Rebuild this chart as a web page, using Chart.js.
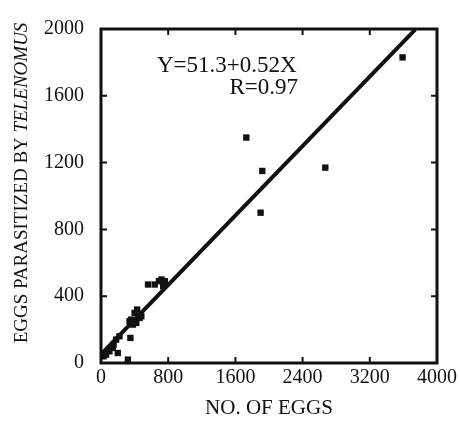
<!DOCTYPE html>
<html>
<head>
<meta charset="utf-8">
<script src="https://cdn.jsdelivr.net/npm/chart.js@4.4.1/dist/chart.umd.min.js"></script>
<style>
  body { margin: 0; background: #fff; }
</style>
</head>
<body>
<canvas id="chart" width="460" height="425"></canvas>
<script>
// number of eggs per mass vs eggs parasitized
const eggs =        [3590, 1730, 1920, 1900, 2670, 560, 640, 690, 720, 760, 740, 360, 400, 430, 380, 340, 460, 420, 480, 350, 180, 220, 150, 100, 60, 140, 200, 320, 30];
const parasitized = [1830, 1350, 1150, 900, 1170, 470, 470, 490, 500, 490, 460, 260, 300, 320, 230, 250, 270, 240, 280, 150, 140, 160, 110, 70, 50, 90, 60, 20, 40];

// regression line end points
const fitX = [0, 3740];
const fitY = [51, 1996];

const xTicks = [0, 800, 1600, 2400, 3200, 4000];
const yTicks = [0, 400, 800, 1200, 1600, 2000];

const serif = "'Liberation Serif', 'DejaVu Serif', serif";

// frame, inward ticks, y title and the equation
const decorations = {
  id: 'decorations',
  afterDraw(chart) {
    const ctx = chart.ctx;
    const area = chart.chartArea;
    const xs = chart.scales.x;
    const ys = chart.scales.y;
    ctx.save();
    ctx.strokeStyle = '#111';
    ctx.lineWidth = 3;
    ctx.strokeRect(area.left, area.top, area.right - area.left, area.bottom - area.top);

    ctx.lineWidth = 2;
    ctx.beginPath();
    xTicks.slice(1, -1).forEach(v => {
      const px = xs.getPixelForValue(v);
      ctx.moveTo(px, area.bottom); ctx.lineTo(px, area.bottom - 6);
      ctx.moveTo(px, area.top); ctx.lineTo(px, area.top + 6);
    });
    yTicks.slice(1, -1).forEach(v => {
      const py = ys.getPixelForValue(v);
      ctx.moveTo(area.left, py); ctx.lineTo(area.left + 6, py);
      ctx.moveTo(area.right, py); ctx.lineTo(area.right - 6, py);
    });
    ctx.stroke();

    // y axis title, part of it in italics
    const partA = 'EGGS PARASITIZED BY ';
    const partB = 'TELENOMUS';
    ctx.translate(22, 183);
    ctx.rotate(-Math.PI / 2);
    ctx.fillStyle = '#111';
    ctx.textBaseline = 'middle';
    ctx.font = '19px ' + serif;
    const wA = ctx.measureText(partA).width;
    ctx.font = 'italic 19px ' + serif;
    const wB = ctx.measureText(partB).width;
    const start = -(wA + wB) / 2;
    ctx.font = '19px ' + serif;
    ctx.fillText(partA, start, 0);
    ctx.font = 'italic 19px ' + serif;
    ctx.fillText(partB, start + wA, 0);
    ctx.restore();

    ctx.save();
    ctx.fillStyle = '#111';
    ctx.font = '23px ' + serif;
    ctx.textBaseline = 'alphabetic';
    ctx.textAlign = 'left';
    ctx.fillText('Y=51.3+0.52X', 157, 72);
    ctx.textAlign = 'right';
    ctx.fillText('R=0.97', 298, 94);
    ctx.restore();
  }
};

new Chart(document.getElementById('chart'), {
  type: 'scatter',
  data: {
    datasets: [
      {
        label: 'eggs',
        data: eggs.map((x, i) => ({ x: x, y: parasitized[i] })),
        pointStyle: 'rect',
        pointRadius: 4.5,
        backgroundColor: '#111',
        borderColor: '#111',
        borderWidth: 0,
      },
      {
        label: 'fit',
        data: fitX.map((x, i) => ({ x: x, y: fitY[i] })),
        showLine: true,
        borderColor: '#111',
        borderWidth: 4,
        pointRadius: 0,
      },
    ],
  },
  plugins: [decorations],
  options: {
    responsive: false,
    animation: false,
    layout: { padding: { left: 0, top: 28, right: 21, bottom: 0 } },
    plugins: {
      legend: { display: false },
      tooltip: { enabled: false },
    },
    scales: {
      x: {
        type: 'linear',
        min: 0,
        max: 4000,
        afterBuildTicks: (s) => { s.ticks = xTicks.map(v => ({ value: v })); },
        afterFit: (s) => { s.height = 62; },
        grid: { display: false, drawTicks: false },
        border: { display: false },
        ticks: {
          color: '#111',
          font: { family: serif, size: 20 },
          padding: 3,
          maxRotation: 0,
          callback: (v) => String(v),
        },
        title: {
          display: true,
          text: 'NO. OF EGGS',
          color: '#111',
          font: { family: serif, size: 21 },
          padding: { top: 8 },
        },
      },
      y: {
        min: 0,
        max: 2000,
        afterBuildTicks: (s) => { s.ticks = yTicks.map(v => ({ value: v })); },
        afterFit: (s) => { s.width = 101; },
        grid: { display: false, drawTicks: false },
        border: { display: false },
        ticks: {
          color: '#111',
          font: { family: serif, size: 20 },
          padding: 17,
          callback: (v) => String(v),
        },
      },
    },
  },
});
</script>
</body>
</html>
